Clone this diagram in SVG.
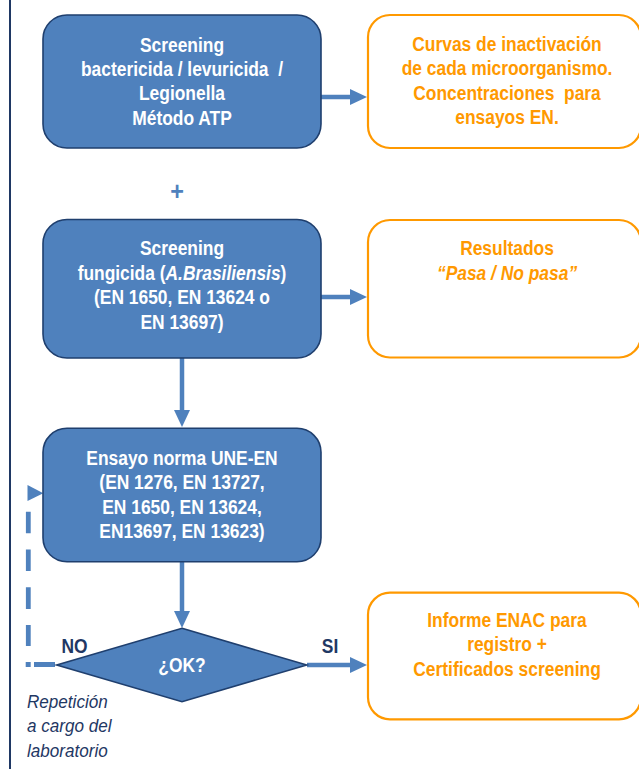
<svg xmlns="http://www.w3.org/2000/svg" width="639" height="769" viewBox="0 0 639 769">
<style>
  .proc { fill: #4F81BD; stroke: #1F3F6E; stroke-width: 1.6; }
  .out { fill: #FFFFFF; stroke: #FF9900; stroke-width: 2.2; }
  .t { font-family: "Liberation Sans", Arial, sans-serif; font-size: 20px; font-weight: bold; text-anchor: middle; }
  .w { fill: #FFFFFF; }
  .o { fill: #FF9900; }
  .n { fill: #1F3864; }
  .conn { stroke: #4F81BD; stroke-width: 4.5; fill: none; }
  .dash { stroke: #4F81BD; stroke-width: 4.8; fill: none; }
  .ah { fill: #4F81BD; }
</style>
<defs>
  <marker id="arr" viewBox="0 0 17 16" refX="7" refY="8" markerWidth="17" markerHeight="16" markerUnits="userSpaceOnUse" orient="auto">
    <path d="M0,0 L17,8 L0,16 z" fill="#4F81BD"/>
  </marker>
</defs>

<!-- left border -->
<line x1="10" y1="0" x2="10" y2="769" stroke="#1F3864" stroke-width="2"/>

<g id="connectors">
  <line class="conn" x1="321" y1="97" x2="357" y2="97" marker-end="url(#arr)"/>
  <line class="conn" x1="321" y1="297" x2="357" y2="297" marker-end="url(#arr)"/>
  <line class="conn" x1="182" y1="358" x2="182" y2="417" marker-end="url(#arr)"/>
  <line class="conn" x1="182" y1="562" x2="182" y2="618" marker-end="url(#arr)"/>
  <line class="conn" x1="307" y1="665" x2="357" y2="665" marker-end="url(#arr)"/>
  <path class="dash" d="M28.3 511.7 V646" stroke-dasharray="21.6 16.2"/>
  <path class="dash" d="M55 664.5 H25.7" stroke-dasharray="21 3.3 5 100"/>
  <polygon class="ah" points="27.5,485 43.3,493.3 27.5,501"/>
</g>

<g id="plus">
  <g transform="translate(177 0) scale(0.9 1)">
    <text class="t" x="0" y="200.5" style="fill:#4F81BD;font-size:26px">+</text>
  </g>
</g>

<g id="node-screening-bact">
  <rect class="proc" x="43" y="15" width="278" height="133" rx="24"/>
  <g transform="translate(182 0) scale(0.87 1)">
    <text class="t w" x="0" y="52">Screening</text>
    <text class="t w" x="0" y="76" xml:space="preserve">bactericida / levuricida  /</text>
    <text class="t w" x="0" y="100">Legionella</text>
    <text class="t w" x="0" y="125">Método ATP</text>
  </g>
</g>

<g id="node-curvas">
  <rect class="out" x="368" y="15" width="273" height="133" rx="22"/>
  <g transform="translate(507 0) scale(0.87 1)">
    <text class="t o" x="0" y="51">Curvas de inactivación</text>
    <text class="t o" x="0" y="75.5">de cada microorganismo.</text>
    <text class="t o" x="0" y="100" xml:space="preserve">Concentraciones  para</text>
    <text class="t o" x="0" y="124.5">ensayos EN.</text>
  </g>
</g>

<g id="node-screening-fung">
  <rect class="proc" x="43" y="219.5" width="278" height="138.5" rx="24"/>
  <g transform="translate(182 0) scale(0.87 1)">
    <text class="t w" x="0" y="255">Screening</text>
    <text class="t w" x="0" y="280">fungicida (<tspan font-style="italic">A.Brasiliensis</tspan>)</text>
    <text class="t w" x="0" y="304.5">(EN 1650, EN 13624 o</text>
    <text class="t w" x="0" y="329">EN 13697)</text>
  </g>
</g>

<g id="node-resultados">
  <rect class="out" x="368" y="220" width="273" height="137.5" rx="22"/>
  <g transform="translate(507 0) scale(0.87 1)">
    <text class="t o" x="0" y="255">Resultados</text>
    <text class="t o" x="0" y="280" font-style="italic">“Pasa / No pasa”</text>
  </g>
</g>

<g id="node-ensayo">
  <rect class="proc" x="43" y="428.3" width="278" height="133.5" rx="24"/>
  <g transform="translate(182 0) scale(0.87 1)">
    <text class="t w" x="0" y="465">Ensayo norma UNE-EN</text>
    <text class="t w" x="0" y="489">(EN 1276, EN 13727,</text>
    <text class="t w" x="0" y="513.5">EN 1650, EN 13624,</text>
    <text class="t w" x="0" y="538">EN13697, EN 13623)</text>
  </g>
</g>

<g id="node-ok">
  <polygon class="proc" points="182,628.3 306.7,665 182,701.7 56.7,665"/>
  <g transform="translate(182 0) scale(0.87 1)">
    <text class="t w" x="0" y="672">¿OK?</text>
  </g>
</g>

<g id="node-informe">
  <rect class="out" x="368" y="592.7" width="273" height="126.6" rx="22"/>
  <g transform="translate(507 0) scale(0.87 1)">
    <text class="t o" x="0" y="627">Informe ENAC para</text>
    <text class="t o" x="0" y="651.5">registro +</text>
    <text class="t o" x="0" y="676">Certificados screening</text>
  </g>
</g>

<g id="labels">
  <g transform="translate(74.5 0) scale(0.87 1)">
    <text class="t n" x="0" y="653">NO</text>
  </g>
  <g transform="translate(330 0) scale(0.87 1)">
    <text class="t n" x="0" y="653">SI</text>
  </g>
  <g transform="translate(27 0) scale(0.9 1)" font-family="Liberation Sans, Arial, sans-serif" font-size="19" font-style="italic" fill="#1F3864">
    <text x="0" y="708">Repetición</text>
    <text x="0" y="732.5">a cargo del</text>
    <text x="0" y="757">laboratorio</text>
  </g>
</g>
</svg>
